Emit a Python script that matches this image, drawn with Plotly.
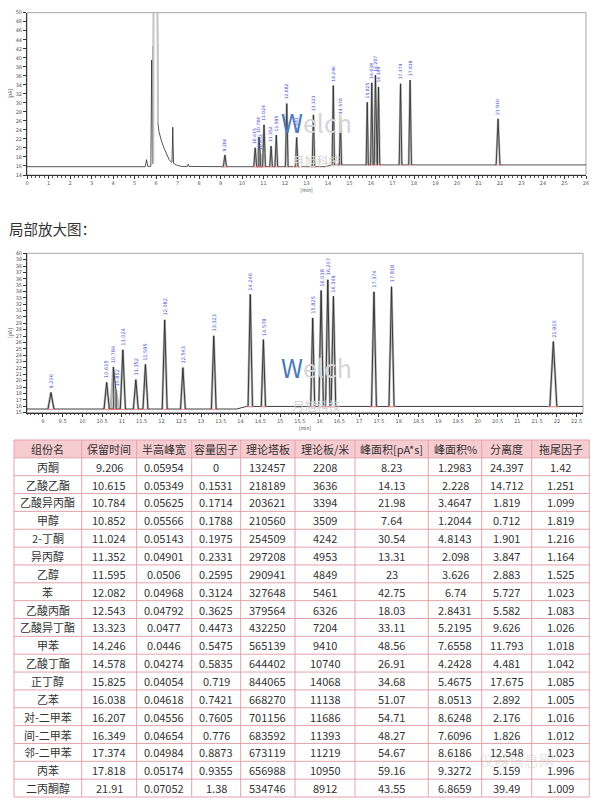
import plotly.graph_objects as go

# ---------------- table data ----------------
names = ["丙酮", "乙酸乙酯", "乙酸异丙酯", "甲醇", "2-丁酮", "异丙醇", "乙醇", "苯", "乙酸丙酯",
         "乙酸异丁酯", "甲苯", "乙酸丁酯", "正丁醇", "乙苯", "对-二甲苯", "间-二甲苯", "邻-二甲苯",
         "丙苯", "二丙酮醇"]
ret_time = [9.206, 10.615, 10.784, 10.852, 11.024, 11.352, 11.595, 12.082, 12.543, 13.323,
            14.246, 14.578, 15.825, 16.038, 16.207, 16.349, 17.374, 17.818, 21.91]
half_width = [0.05954, 0.05349, 0.05625, 0.05566, 0.05143, 0.04901, 0.0506, 0.04968, 0.04792,
              0.0477, 0.0446, 0.04274, 0.04054, 0.04618, 0.04556, 0.04654, 0.04984, 0.05174, 0.07052]
capacity = [0, 0.1531, 0.1714, 0.1788, 0.1975, 0.2331, 0.2595, 0.3124, 0.3625, 0.4473, 0.5475,
            0.5835, 0.719, 0.7421, 0.7605, 0.776, 0.8873, 0.9355, 1.38]
plates = [132457, 218189, 203621, 210560, 254509, 297208, 290941, 327648, 379564, 432250,
          565139, 644402, 844065, 668270, 701156, 683592, 673119, 656988, 534746]
plates_m = [2208, 3636, 3394, 3509, 4242, 4953, 4849, 5461, 6326, 7204, 9410, 10740, 14068,
            11138, 11686, 11393, 11219, 10950, 8912]
area = [8.23, 14.13, 21.98, 7.64, 30.54, 13.31, 23, 42.75, 18.03, 33.11, 48.56, 26.91, 34.68,
        51.07, 54.71, 48.27, 54.67, 59.16, 43.55]
area_pct = [1.2983, 2.228, 3.4647, 1.2044, 4.8143, 2.098, 3.626, 6.74, 2.8431, 5.2195, 7.6558,
            4.2428, 5.4675, 8.0513, 8.6248, 7.6096, 8.6186, 9.3272, 6.8659]
resolution = [24.397, 14.712, 1.819, 0.712, 1.901, 3.847, 2.883, 5.727, 5.582, 9.626, 11.793,
              4.481, 17.675, 2.892, 2.176, 1.826, 12.548, 5.159, 39.49]
tailing = [1.42, 1.251, 1.099, 1.819, 1.216, 1.164, 1.525, 1.023, 1.083, 1.026, 1.018, 1.042,
           1.085, 1.005, 1.016, 1.012, 1.023, 1.996, 1.009]
headers = ["组份名", "保留时间", "半高峰宽", "容量因子", "理论塔板", "理论板/米", "峰面积[pA*s]",
           "峰面积%", "分离度", "拖尾因子"]

# peak heights above baseline [pA]
peak_amp = [2.6, 4.2, 6.6, 2.9, 9.3, 4.6, 7.0, 14.0, 6.5, 11.5, 17.6, 10.5, 13.9, 18.2, 19.9,
            17.3, 18.0, 18.8, 10.2]
peak_label = ["9.206", "10.615", "10.784", "10.852", "11.024", "11.352", "11.595", "12.082",
              "12.543", "13.323", "14.246", "14.578", "15.825", "16.038", "16.207", "16.349",
              "17.374", "17.818", "21.910"]

# solvent region of the full chromatogram
solvent_x = [5.50, 5.56, 5.62, 5.76, 5.80, 5.84, 5.87, 5.876, 5.885, 6.06, 6.09, 6.14, 6.25,
             6.38, 6.50, 6.61, 6.72, 6.745, 6.78, 6.815, 7.00, 7.20, 7.46, 7.50, 7.54]
solvent_y = [15.84, 17.4, 15.9, 15.95, 39.5, 16.6, 42.6, 16.6, 60, 60, 25.5, 23.6, 21.6,
             19.9, 18.5, 17.4, 16.8, 16.9, 24.6, 16.6, 16.1, 15.9, 15.9, 16.4, 15.9]
column_x = [5.876, 5.885, 6.06, 6.09]
column_y = [16.6, 60, 60, 25.5]

BASE1 = 15.84   # baseline chart 1
BASE2 = 15.55   # baseline chart 2
DRIFT = 0.4     # baseline rise after ~14 min

FONT = "Noto Sans CJK SC"
LABEL_BLUE = "#4a4ad0"
W, H = 602, 802


def chrom(base, x0, x1, extra_x=None, extra_y=None):
    pts = [(x0, base), (13.9, base), (14.15, base + DRIFT), (x1, base + DRIFT)]
    if extra_x:
        pts += list(zip(extra_x, extra_y))
    under_x, under_y, red_x, red_y = [], [], [], []
    for rt, w, a in zip(ret_time, half_width, peak_amp):
        b = base + (DRIFT if rt >= 14.15 else 0)
        k = 1.25 * w
        pts += [(rt - k, b), (rt, b + a), (rt + k, b)]
        under_x += [rt - k, rt, rt + k, None]
        under_y += [b, b + a, b, None]
        red_x += [rt - 1.7 * k, rt + 1.7 * k, None]
        red_y += [b - 0.05, b - 0.05, None]
    pts = [p for p in pts if x0 <= p[0] <= x1]
    pts.sort()
    return [p[0] for p in pts], [p[1] for p in pts], under_x, under_y, red_x, red_y


fig = go.Figure()

# ---- chart 1 (full) ----
x1s, y1s, u1x, u1y, r1x, r1y = chrom(BASE1, 0, 26, solvent_x, solvent_y)
fig.add_trace(go.Scatter(x=u1x, y=u1y, mode="lines", line=dict(color="#b8b8b8", width=2.2),
                         xaxis="x", yaxis="y", hoverinfo="skip"))
fig.add_trace(go.Scatter(x=x1s, y=y1s, mode="lines", line=dict(color="#2a2a2a", width=0.8),
                         xaxis="x", yaxis="y"))
fig.add_trace(go.Scatter(x=column_x, y=column_y, mode="lines", line=dict(color="#c4c4c4", width=2.0),
                         xaxis="x", yaxis="y"))
fig.add_trace(go.Scatter(x=r1x, y=r1y, mode="lines", line=dict(color="#e07070", width=0.8),
                         xaxis="x", yaxis="y"))

# ---- chart 2 (zoom) ----
x2s, y2s, u2x, u2y, r2x, r2y = chrom(BASE2, 8.6, 22.66)
fig.add_trace(go.Scatter(x=u2x, y=u2y, mode="lines", line=dict(color="#b8b8b8", width=2.4),
                         xaxis="x2", yaxis="y2"))
fig.add_trace(go.Scatter(x=x2s, y=y2s, mode="lines", line=dict(color="#2a2a2a", width=0.9),
                         xaxis="x2", yaxis="y2"))
fig.add_trace(go.Scatter(x=r2x, y=r2y, mode="lines", line=dict(color="#e07070", width=0.9),
                         xaxis="x2", yaxis="y2"))

annotations = []
shapes = []

# ---- table drawn with shapes + text ----
col_edges = [14, 81.7, 136.7, 191.7, 240.7, 295, 355, 428.3, 481.7, 531.7, 589.3]
TOP, ROW_H = 440.0, 17.85
col_vals = [names, ret_time, half_width, capacity, plates, plates_m, area, area_pct,
            resolution, tailing]
n_rows = len(names) + 1
LINE_C = "#e2a3ab"


def py(v):
    return 1 - v / H


def px(v):
    return v / W


shapes.append(dict(type="rect", xref="paper", yref="paper", x0=px(col_edges[0]), x1=px(col_edges[-1]),
                   y0=py(TOP + ROW_H), y1=py(TOP), fillcolor="#f6ccd1", line=dict(width=0),
                   layer="below"))
for i in range(n_rows + 1):
    yy = py(TOP + i * ROW_H)
    shapes.append(dict(type="line", xref="paper", yref="paper", x0=px(col_edges[0]),
                       x1=px(col_edges[-1]), y0=yy, y1=yy, line=dict(color=LINE_C, width=1)))
for xe in col_edges:
    shapes.append(dict(type="line", xref="paper", yref="paper", x0=px(xe), x1=px(xe),
                       y0=py(TOP), y1=py(TOP + n_rows * ROW_H), line=dict(color=LINE_C, width=1)))

for c, (hdr, vals) in enumerate(zip(headers, col_vals)):
    cx = px((col_edges[c] + col_edges[c + 1]) / 2)
    annotations.append(dict(x=cx, y=py(TOP + 0.5 * ROW_H), xref="paper", yref="paper", text=hdr,
                            showarrow=False, xanchor="center", yanchor="middle",
                            font=dict(size=11, color="#333333", family=FONT)))
    for r, v in enumerate(vals):
        annotations.append(dict(x=cx, y=py(TOP + (r + 1.5) * ROW_H), xref="paper", yref="paper",
                                text=str(v), showarrow=False, xanchor="center", yanchor="middle",
                                font=dict(size=11, color="#333333", family=FONT)))

# ---- peak labels ----
for rt, a, lab in zip(ret_time, peak_amp, peak_label):
    b1 = BASE1 + (DRIFT if rt >= 14.15 else 0)
    b2 = BASE2 + (DRIFT if rt >= 14.15 else 0)
    annotations.append(dict(x=rt, y=b1 + a, xref="x", yref="y", text=lab, textangle=-90,
                            showarrow=False, yanchor="bottom", xanchor="center", yshift=2,
                            font=dict(size=4.5, color=LABEL_BLUE, family="DejaVu Sans")))
    annotations.append(dict(x=rt, y=b2 + a, xref="x2", yref="y2", text=lab, textangle=-90,
                            showarrow=False, yanchor="bottom", xanchor="center", yshift=2,
                            font=dict(size=5, color=LABEL_BLUE, family="DejaVu Sans")))

# section title
annotations.append(dict(x=px(7), y=py(228), xref="paper", yref="paper", text="局部放大图：",
                        showarrow=False, xanchor="left", yanchor="middle",
                        font=dict(size=14.5, color="#333333", family=FONT)))
# watermarks (logo + company name in one text block)
for cy in (137, 381):
    annotations.append(dict(x=px(317), y=py(cy), xref="paper", yref="paper",
                            text="<span style='color:#4a7bbd'>W</span>elch<br>"
                                 "<span style='font-size:12px;color:#d2d2d2'>月旭科技</span>",
                            showarrow=False, xanchor="center", yanchor="middle",
                            font=dict(size=25, color="#d6d6d6", family=FONT)))
annotations.append(dict(x=px(556), y=py(772), xref="paper", yref="paper",
                        text="仪器信息网", showarrow=False,
                        font=dict(size=15, color="rgba(190,190,190,0.4)", family=FONT)))

frame = dict(type="rect", x0=0, x1=1, y0=0, y1=1, line=dict(color="#a8a8a8", width=1), layer="below")
shapes += [dict(frame, xref="x domain", yref="y domain"), dict(frame, xref="x2 domain", yref="y2 domain")]

axis_common = dict(showgrid=False, zeroline=False, showline=True, linecolor="#333333", linewidth=1,
                   ticks="outside", ticklen=3, tickwidth=0.7, tickcolor="#333333",
                   tickfont=dict(size=5, color="#555555", family="DejaVu Sans"), automargin=False)

fig.update_layout(
    template="none",
    width=W, height=H, margin=dict(l=0, r=0, t=0, b=0),
    paper_bgcolor="white", plot_bgcolor="white", showlegend=False,
    font=dict(family=FONT),
    xaxis=dict(axis_common, domain=[px(27), px(586)], range=[0, 26], anchor="y",
               tickmode="linear", tick0=0, dtick=1,
               minor=dict(ticks="outside", dtick=0.2, ticklen=1.5, tickcolor="#555555"),
               title=dict(text="[min]", font=dict(size=5, color="#555555"), standoff=0)),
    yaxis=dict(axis_common, domain=[py(175), py(12.7)], range=[14, 50], anchor="x",
               tickmode="linear", tick0=14, dtick=2,
               title=dict(text="[pA]", font=dict(size=5, color="#555555"), standoff=2)),
    xaxis2=dict(axis_common, domain=[px(27), px(583)], range=[8.6, 22.66], anchor="y2",
                tickmode="linear", tick0=9, dtick=0.5,
                minor=dict(ticks="outside", dtick=0.1, ticklen=1.5, tickcolor="#555555"),
                title=dict(text="[min]", font=dict(size=5, color="#555555"), standoff=0)),
    yaxis2=dict(axis_common, domain=[py(412.5), py(253.3)], range=[15, 40], anchor="x2",
                tickmode="linear", tick0=15, dtick=1,
                title=dict(text="[pA]", font=dict(size=5, color="#555555"), standoff=2)),
    annotations=annotations,
    shapes=shapes,
)

fig.write_html("out.html")
